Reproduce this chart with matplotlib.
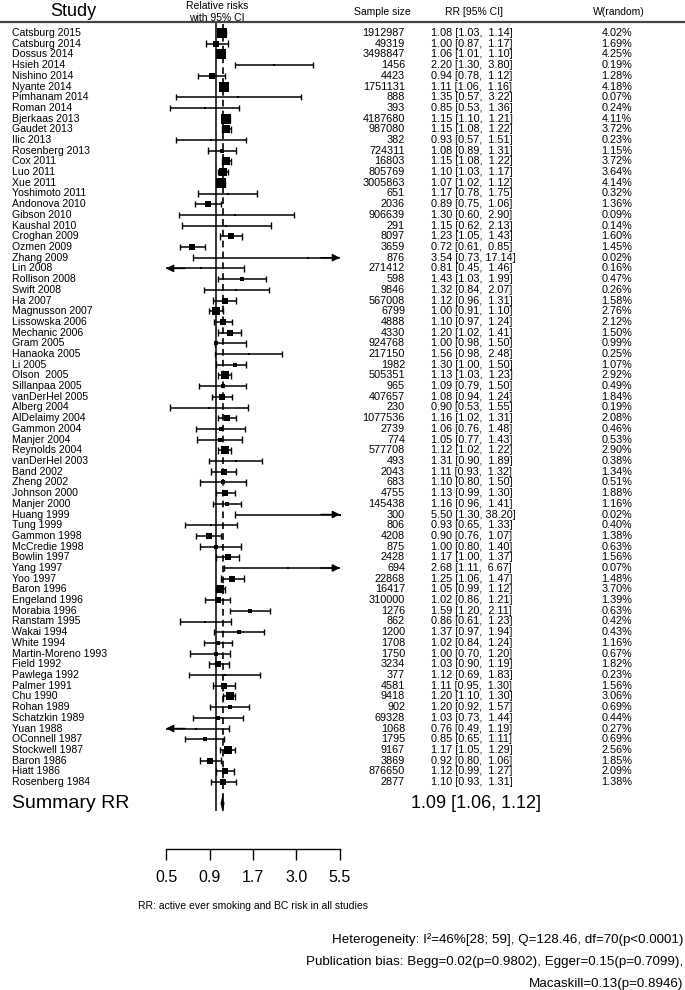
import numpy as np
import matplotlib
matplotlib.use('Agg')
import matplotlib.pyplot as plt
import matplotlib.transforms as mtransforms
from matplotlib.lines import Line2D
from matplotlib.ticker import NullLocator

plt.rcParams['font.family'] = ['Liberation Sans', 'DejaVu Sans']

studies = ["Catsburg 2015", "Catsburg 2014", "Dossus 2014", "Hsieh 2014", "Nishino 2014",
           "Nyante 2014", "Pimhanam 2014", "Roman 2014", "Bjerkaas 2013", "Gaudet 2013",
           "Ilic 2013", "Rosenberg 2013", "Cox 2011", "Luo 2011", "Xue 2011",
           "Yoshimoto 2011", "Andonova 2010", "Gibson 2010", "Kaushal 2010", "Croghan 2009",
           "Ozmen 2009", "Zhang 2009", "Lin 2008", "Rollison 2008", "Swift 2008",
           "Ha 2007", "Magnusson 2007", "Lissowska 2006", "Mechanic 2006", "Gram 2005",
           "Hanaoka 2005", "Li 2005", "Olson  2005", "Sillanpaa 2005", "vanDerHel 2005",
           "Alberg 2004", "AlDelaimy 2004", "Gammon 2004", "Manjer 2004", "Reynolds 2004",
           "vanDerHel 2003", "Band 2002", "Zheng 2002", "Johnson 2000", "Manjer 2000",
           "Huang 1999", "Tung 1999", "Gammon 1998", "McCredie 1998", "Bowlin 1997",
           "Yang 1997", "Yoo 1997", "Baron 1996", "Engeland 1996", "Morabia 1996",
           "Ranstam 1995", "Wakai 1994", "White 1994", "Martin-Moreno 1993", "Field 1992",
           "Pawlega 1992", "Palmer 1991", "Chu 1990", "Rohan 1989", "Schatzkin 1989",
           "Yuan 1988", "OConnell 1987", "Stockwell 1987", "Baron 1986", "Hiatt 1986",
           "Rosenberg 1984"]

sample_size = [1912987, 49319, 3498847, 1456, 4423, 1751131, 888, 393, 4187680, 987080,
               382, 724311, 16803, 805769, 3005863, 651, 2036, 906639, 291, 8097,
               3659, 876, 271412, 598, 9846, 567008, 6799, 4888, 4330, 924768,
               217150, 1982, 505351, 965, 407657, 230, 1077536, 2739, 774, 577708,
               493, 2043, 683, 4755, 145438, 300, 806, 4208, 875, 2428,
               694, 22868, 16417, 310000, 1276, 862, 1200, 1708, 1750, 3234,
               377, 4581, 9418, 902, 69328, 1068, 1795, 9167, 3869, 876650,
               2877]

rr = [1.08, 1.00, 1.06, 2.20, 0.94, 1.11, 1.35, 0.85, 1.15, 1.15,
      0.93, 1.08, 1.15, 1.10, 1.07, 1.17, 0.89, 1.30, 1.15, 1.23,
      0.72, 3.54, 0.81, 1.43, 1.32, 1.12, 1.00, 1.10, 1.20, 1.00,
      1.56, 1.30, 1.13, 1.09, 1.08, 0.90, 1.16, 1.06, 1.05, 1.12,
      1.31, 1.11, 1.10, 1.13, 1.16, 5.50, 0.93, 0.90, 1.00, 1.17,
      2.68, 1.25, 1.05, 1.02, 1.59, 0.86, 1.37, 1.02, 1.00, 1.03,
      1.12, 1.11, 1.20, 1.20, 1.03, 0.76, 0.85, 1.17, 0.92, 1.12,
      1.10]

ci_low = [1.03, 0.87, 1.01, 1.30, 0.78, 1.06, 0.57, 0.53, 1.10, 1.08,
          0.57, 0.89, 1.08, 1.03, 1.02, 0.78, 0.75, 0.60, 0.62, 1.05,
          0.61, 0.73, 0.45, 1.03, 0.84, 0.96, 0.91, 0.97, 1.02, 0.98,
          0.98, 1.00, 1.03, 0.79, 0.94, 0.53, 1.02, 0.76, 0.77, 1.02,
          0.90, 0.93, 0.80, 0.99, 0.96, 1.30, 0.65, 0.76, 0.80, 1.00,
          1.11, 1.06, 0.99, 0.86, 1.20, 0.61, 0.97, 0.84, 0.70, 0.90,
          0.69, 0.95, 1.10, 0.92, 0.73, 0.49, 0.65, 1.05, 0.80, 0.99,
          0.93]

ci_high = [1.14, 1.17, 1.10, 3.80, 1.12, 1.16, 3.22, 1.36, 1.21, 1.22,
           1.51, 1.31, 1.22, 1.17, 1.12, 1.75, 1.06, 2.90, 2.13, 1.43,
           0.85, 17.14, 1.46, 1.99, 2.07, 1.31, 1.10, 1.24, 1.41, 1.50,
           2.48, 1.50, 1.23, 1.50, 1.24, 1.55, 1.31, 1.48, 1.43, 1.22,
           1.89, 1.32, 1.50, 1.30, 1.41, 38.20, 1.33, 1.07, 1.40, 1.37,
           6.67, 1.47, 1.12, 1.21, 2.11, 1.23, 1.94, 1.24, 1.20, 1.19,
           1.83, 1.30, 1.30, 1.57, 1.44, 1.19, 1.11, 1.29, 1.06, 1.27,
           1.31]

weight = [4.02, 1.69, 4.25, 0.19, 1.28, 4.18, 0.07, 0.24, 4.11, 3.72,
          0.23, 1.15, 3.72, 3.64, 4.14, 0.32, 1.36, 0.09, 0.14, 1.60,
          1.45, 0.02, 0.16, 0.47, 0.26, 1.58, 2.76, 2.12, 1.50, 0.99,
          0.25, 1.07, 2.92, 0.49, 1.84, 0.19, 2.08, 0.46, 0.53, 2.90,
          0.38, 1.34, 0.51, 1.88, 1.16, 0.02, 0.40, 1.38, 0.63, 1.56,
          0.07, 1.48, 3.70, 1.39, 0.63, 0.42, 0.43, 1.16, 0.67, 1.82,
          0.23, 1.56, 3.06, 0.69, 0.44, 0.27, 0.69, 2.56, 1.85, 2.09,
          1.38]

summary_rr, summary_lo, summary_hi = 1.09, 1.06, 1.12
tick_labels = ["0.5", "0.9", "1.7", "3.0", "5.5"]
x_min, x_max = 0.5, 5.5

note = "RR: active ever smoking and BC risk in all studies"
stats_lines = ["Heterogeneity: I\u00b2=46%[28; 59], Q=128.46, df=70(p<0.0001)",
               "Publication bias: Begg=0.02(p=0.9802), Egger=0.15(p=0.7099),",
               "Macaskill=0.13(p=0.8946)"]

W, H = 685, 990
fig = plt.figure(figsize=(W / 100, H / 100), dpi=100)


def fx(px):
    return px / W


def fy(py):
    return 1 - py / H


row0, row_step = 33.0, 10.7   # pixel y of first study row, pixels per row
ax_top, ax_bot = 22.0, 849.0
ax = fig.add_axes([fx(166), fy(ax_bot), fx(340) - fx(166), (ax_bot - ax_top) / H])
ax.set_xscale('log')
ax.set_xlim(x_min, x_max)
y_top = (ax_top - row0) / row_step
ax.set_ylim((ax_bot - row0) / row_step, y_top)
ax.patch.set_visible(False)

n = len(studies)
rows = np.arange(n)
sum_row = n + 1

# reference lines
ax.vlines(1.0, y_top, sum_row + 0.7, color='black', lw=1.1)
ax.vlines(summary_rr, y_top + 0.2, sum_row + 0.9, color='black', lw=1.2,
          linestyles=(0, (4, 2.5)))

cap = 0.3
for y, est, lo, hi, w in zip(rows, rr, ci_low, ci_high, weight):
    left = max(lo, x_min)
    right = min(hi, x_max)
    ax.hlines(y, left, right, color='black', lw=1.1, clip_on=False)
    if lo >= x_min:
        ax.vlines(lo, y - cap, y + cap, color='black', lw=1.0)
    else:
        ax.annotate("", xy=(x_min, y), xytext=(x_min * 1.3, y),
                    arrowprops=dict(arrowstyle='-|>', color='black', lw=1.0,
                                    mutation_scale=11, shrinkA=0, shrinkB=0),
                    annotation_clip=False)
    if hi <= x_max:
        ax.vlines(hi, y - cap, y + cap, color='black', lw=1.0)
    else:
        ax.annotate("", xy=(x_max, y), xytext=(x_max / 1.3, y),
                    arrowprops=dict(arrowstyle='-|>', color='black', lw=1.0,
                                    mutation_scale=11, shrinkA=0, shrinkB=0),
                    annotation_clip=False)
    side_px = max(4.6 * np.sqrt(w), 2.5)
    ax.scatter([est], [y], s=(side_px * 0.72) ** 2, marker='s', color='black',
               lw=0, zorder=3, clip_on=False)

# summary diamond
ax.fill([summary_lo, summary_rr, summary_hi, summary_rr],
        [sum_row, sum_row - 0.8, sum_row, sum_row + 0.8], color='black', lw=0)

# bottom axis
ticks = np.geomspace(x_min, x_max, len(tick_labels))
ax.set_xticks(ticks)
ax.set_xticklabels(tick_labels)
ax.xaxis.set_minor_locator(NullLocator())
ax.set_yticks([])
for side in ['top', 'left', 'right']:
    ax.spines[side].set_visible(False)
ax.spines['bottom'].set_linewidth(1.0)
ax.tick_params(axis='x', direction='out', length=8, width=1.0, pad=7, labelsize=11.5)

# header
fig.add_artist(Line2D([0, 1], [fy(22), fy(22)], color='#444444', lw=1.6))
fig.text(fx(73), fy(12), "Study", ha='center', va='center', fontsize=13)
fig.text(fx(217), fy(6), "Relative risks", ha='center', va='center', fontsize=7.5)
fig.text(fx(217), fy(18), "with 95% CI", ha='center', va='center', fontsize=7.5)
fig.text(fx(382), fy(12), "Sample size", ha='center', va='center', fontsize=7.5)
fig.text(fx(474), fy(12), "RR [95% CI]", ha='center', va='center', fontsize=7.5)
fig.text(fx(619), fy(12), "W(random)", ha='center', va='center', fontsize=7.5)

# table columns
trans = mtransforms.blended_transform_factory(fig.transFigure, ax.transData)
for y, name, ss, est, lo, hi, w in zip(rows, studies, sample_size, rr, ci_low, ci_high, weight):
    ax.text(fx(12), y, name, transform=trans, ha='left', va='center', fontsize=7.6)
    ax.text(fx(405), y, str(ss), transform=trans, ha='right', va='center', fontsize=7.8)
    ax.text(fx(431), y, "%.2f [%.2f, %5.2f]" % (est, lo, hi), transform=trans,
            ha='left', va='center', fontsize=7.8)
    ax.text(fx(617), y, "%.2f%%" % w, transform=trans, ha='center', va='center', fontsize=7.8)

ax.text(fx(12), sum_row, "Summary RR", transform=trans, ha='left', va='center', fontsize=14)
ax.text(fx(476), sum_row, "%.2f [%.2f, %.2f]" % (summary_rr, summary_lo, summary_hi),
        transform=trans, ha='center', va='center', fontsize=13)

fig.text(fx(253), fy(906), note, ha='center', va='center', fontsize=7.5)
for i, line in enumerate(stats_lines):
    fig.text(fx(683), fy(940 + 22 * i), line, ha='right', va='center', fontsize=9.6)

fig.savefig("out.png", dpi=100)
